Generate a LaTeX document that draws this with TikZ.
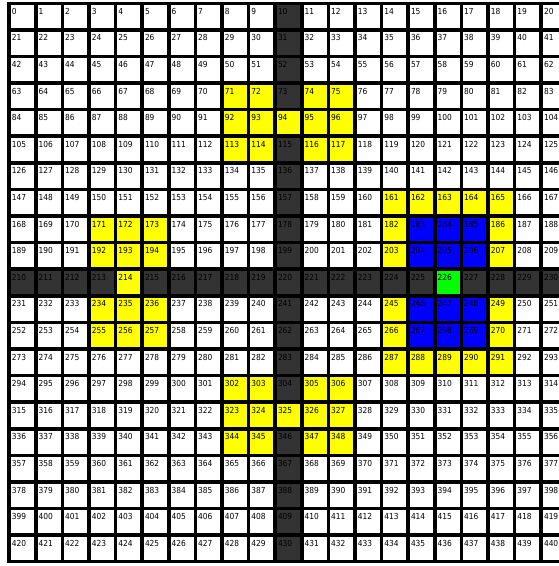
\documentclass[tikz,border=0pt]{standalone}
\usepackage{fontspec}
\newfontfamily\cellfont{DejaVu Sans Condensed}
\definecolor{darkcell}{HTML}{333333}
\definecolor{ycell}{HTML}{FFFF00}
\definecolor{bcell}{HTML}{0000FF}
\definecolor{gcell}{HTML}{00FF00}
\def\ylist{71,72,74,75,92,93,94,95,96,113,114,116,117,302,303,305,306,323,324,325,326,327,344,345,347,348,171,172,173,192,193,194,214,234,235,236,255,256,257,161,162,163,164,165,182,186,203,207,245,249,266,270,287,288,289,290,291}
\def\blist{183,184,185,204,205,206,246,247,248,267,268,269}
\begin{document}
\begin{tikzpicture}[x=1pt,y=-1pt,
  cell/.style={draw=none,minimum width=23pt,minimum height=23pt,inner sep=0pt,outer sep=0pt,anchor=north west},
  lbl/.style={inner sep=0pt,anchor=base west,font=\cellfont\fontsize{8.3}{10}\selectfont,text=black}]
\useasboundingbox (0,0) rectangle (559,566);
\clip (0,0) rectangle (559,566);
\fill[white] (0,0) rectangle (559,566);
\fill[black] (7,2) rectangle (600,563);
\foreach \r in {0,...,20}{
  \foreach \c in {0,...,20}{
    \pgfmathtruncatemacro\n{\r*21+\c}
    \gdef\fc{white}
    \ifnum\r=10 \gdef\fc{darkcell}\fi
    \ifnum\c=10 \gdef\fc{darkcell}\fi
    \foreach \k in \ylist {\ifnum\n=\k\relax\gdef\fc{ycell}\fi}
    \foreach \k in \blist {\ifnum\n=\k\relax\gdef\fc{bcell}\fi}
    \ifnum\n=226 \gdef\fc{gcell}\fi
    \node[cell,fill=\fc] (c\n) at ({11+26.6*\c},{5+26.6*\r}) {};
    \node[lbl] (t\n) at ([xshift=0.8pt,yshift=-9.3pt]c\n.north west) {\n};
  }
}
\end{tikzpicture}
\end{document}
